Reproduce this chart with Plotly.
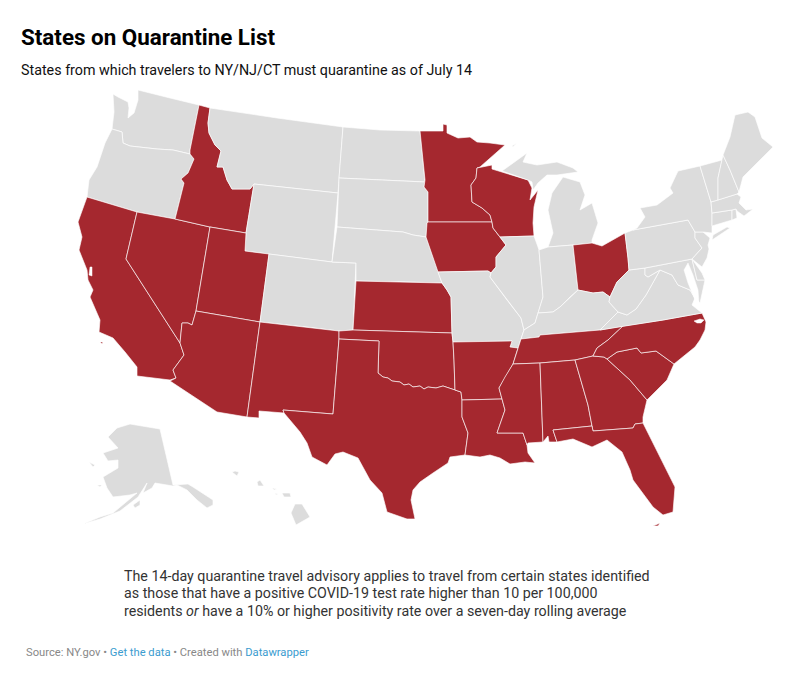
import plotly.graph_objects as go

# outlines are read off the picture, no basemap can be fetched here
red_river = [(378,373),(383,377),(388,378),(392,381),(400,382),(404,385),(409,384),(413,387),(420,386),(424,389),(428,387),(436,388),(443,386),(449,388),(455,390)]

WA = [[(113,94),(118,97),(128,102),(129,108),(128,118),(134,113),(138,100),(138,90),(170,98),(199,105),(190,150),(190,154),(173,150),(157,149),(130,146),(123,143),(122,132),(112,129),(114,112)]]
OR = [[(112,129),(122,132),(123,143),(130,146),(157,149),(173,150),(190,154),(194,159),(188,173),(181,179),(184,183),(175,219),(137,212),(87,197),(89,180),(97,167),(105,143)]]
CA = [[(87,197),(137,212),(126,259),(180,343),(184,355),(173,370),(176,378),(170,380),(137,376),(137,367),(125,352),(113,338),(99,332),(100,320),(90,297),(93,290),(88,280),(87,270),(79,250),(82,237),(78,222)],
      [(100,342),(103,342),(102,344)]]
NV = [[(137,212),(175,219),(210,227),(196,311),(192,325),(188,323),(182,323),(180,343),(126,259)]]
ID = [[(199,105),(210,108),(208,123),(209,133),(215,145),(221,151),(217,167),(223,167),(227,180),(232,189),(250,189),(254,184),(246,233),(210,227),(175,219),(184,183),(181,179),(188,173),(194,159),(190,154),(190,150)]]
MT = [[(210,108),(277,118),(343,127),(338,193),(254,184),(250,189),(232,189),(227,180),(223,167),(217,167),(221,151),(215,145),(209,133),(208,123)]]
WY = [[(254,184),(338,193),(332,262),(269,254),(245,251),(246,233)]]
UT = [[(210,227),(246,233),(245,251),(269,254),(260,322),(196,311)]]
AZ = [[(196,311),(260,322),(247,417),(217,412),(170,381),(176,378),(173,370),(184,355),(180,343),(182,323),(188,323),(192,325)]]
CO = [[(269,254),(332,262),(356,263),(353,330),(339,331),(307,327),(260,322)]]
NM = [[(260,322),(307,327),(339,331),(339,339),(333,414),(283,410),(284,413),(259,411),(259,418),(247,417)]]
ND = [[(343,127),(380,130),(420,131),(425,180),(425,182),(339,178)]]
SD = [[(339,178),(425,182),(424,187),(428,192),(428,222),(427,223),(426,237),(413,235),(403,232),(337,227)]]
NE = [[(337,227),(403,232),(413,235),(426,237),(433,257),(438,272),(442,283),(410,282),(356,281),(356,263),(332,262)]]
KS = [[(356,281),(410,282),(442,283),(447,290),(451,297),(452,333),(353,330)]]
OK = [[(339,331),(353,330),(452,333),(453,342),(454,360)] + red_river[::-1] + [(379,341),(339,339)]]
TX = [[(339,339),(379,341)] + red_river + [(461,392),(462,400),(462,417),(468,433),(465,455),(450,457),(448,463),(433,473),(420,482),(413,490),(411,500),(415,519),(407,519),(387,512),(382,493),(370,480),(358,458),(343,452),(335,454),(327,465),(312,457),(307,443),(300,432),(284,413),(283,410),(333,414)]]
MN = [[(420,131),(443,131),(443,124),(447,125),(447,133),(458,138),(470,137),(477,142),(490,143),(505,145),(480,167),(477,168),(476,178),(471,185),(472,202),(482,208),(490,215),(492,222),(428,222),(428,192),(424,187),(425,180)]]
IA = [[(428,222),(492,222),(493,228),(500,237),(506,245),(496,257),(496,267),(491,273),(488,271),(438,272),(433,257),(426,237),(427,223)]]
MO = [[(438,272),(488,271),(491,273),(490,277),(507,300),(521,318),(524,330),(521,339),(518,348),(510,347),(512,341),(453,342),(452,333),(451,297),(447,290),(442,283)]]
AR = [[(453,342),(512,341),(510,347),(518,348),(513,364),(505,377),(499,388),(502,399),(462,400),(461,392),(455,390),(454,360)]]
LA = [[(462,400),(502,399),(505,410),(497,433),(523,433),(527,445),(528,453),(535,463),(525,462),(510,464),(500,458),(490,455),(480,457),(465,455),(468,433),(462,417)]]
WI = [[(477,168),(492,165),(492,169),(502,172),(528,180),(532,188),(530,200),(538,190),(534,207),(533,223),(534,236),(500,237),(493,228),(492,222),(490,215),(482,208),(472,202),(471,185),(476,178)]]
IL = [[(500,237),(534,236),(538,247),(539,250),(543,297),(538,313),(535,323),(527,328),(524,330),(521,318),(507,300),(490,277),(491,273),(496,267),(496,257),(506,245)]]
MI = [[(548,247),(553,233),(548,210),(552,193),(563,177),(580,182),(585,195),(580,210),(592,203),(598,223),(592,240),(592,243),(573,245)],
      [(502,171),(520,158),(527,153),(523,162),(537,165),(557,162),(573,168),(578,172),(557,175),(547,175),(538,183),(533,190),(532,182),(528,180)],
      [(512,146),(517,143),(513,147)]]
IN = [[(539,250),(548,247),(573,245),(578,290),(570,297),(560,307),(553,312),(538,313),(543,297)]]
OH = [[(573,245),(592,243),(602,246),(625,233),(628,258),(629,270),(627,272),(617,282),(610,297),(603,292),(593,293),(578,290)]]
KY = [[(524,330),(527,328),(535,323),(538,313),(553,312),(560,307),(570,297),(578,290),(593,293),(603,292),(610,297),(609,302),(618,312),(607,323),(600,330),(540,335),(539,337),(521,339)]]
TN = [[(521,339),(539,337),(540,335),(600,330),(623,326),(608,340),(597,348),(593,356),(575,360),(540,363),(513,364),(518,348)]]
MS = [[(513,364),(540,363),(543,442),(528,443),(527,445),(523,433),(497,433),(505,410),(502,399),(499,388),(505,377)]]
AL = [[(540,363),(575,360),(588,405),(592,426),(553,430),(557,442),(549,442),(548,436),(543,442)]]
GA = [[(575,360),(593,356),(604,357),(607,359),(630,380),(647,400),(643,417),(643,423),(635,424),(633,428),(593,431),(592,426),(588,405)]]
SC = [[(607,359),(617,352),(637,348),(641,353),(656,351),(674,364),(667,380),(647,400),(630,380)]]
NC = [[(702,313),(706,322),(705,330),(700,340),(695,347),(683,357),(674,364),(656,351),(641,353),(637,348),(617,352),(607,359),(604,357),(593,356),(597,348),(608,340),(623,326),(663,320)]]
FL = [[(553,430),(592,426),(593,431),(633,428),(635,424),(643,423),(648,433),(660,457),(675,487),(673,512),(663,515),(653,507),(643,493),(633,480),(630,470),(622,452),(607,440),(592,447),(573,439),(557,442)],
      [(653,526),(660,523),(658,526)]]
VA = [[(600,330),(607,323),(618,312),(627,315),(636,309),(646,295),(653,282),(660,270),(672,275),(678,285),(690,290),(695,298),(692,305),(702,313),(663,320),(623,326)]]
WV = [[(629,270),(645,268),(645,275),(648,277),(660,270),(653,282),(646,295),(636,309),(627,315),(618,312),(609,302),(610,297),(617,282),(627,272)]]
MD = [[(645,268),(692,259),(697,280),(705,280),(700,303),(695,298),(690,290),(678,285),(672,275),(660,270),(648,277),(645,275)]]
DE = [[(692,259),(702,273),(705,280),(697,280)]]
PA = [[(625,233),(633,230),(688,220),(695,232),(695,238),(702,248),(692,259),(645,268),(629,270),(628,258)]]
NJ = [[(695,232),(703,232),(710,238),(708,245),(709,249),(707,258),(702,267),(692,259),(702,248),(695,238)]]
NY = [[(700,166),(678,171),(670,188),(673,193),(657,205),(640,208),(645,217),(637,228),(633,230),(688,220),(695,232),(703,232),(712,233),(712,213),(711,202),(706,185)],
      [(712,240),(730,228),(727,227),(713,235)]]
CT = [[(712,213),(732,210),(732,220),(712,226)]]
RI = [[(732,210),(736,209),(737,218),(732,220)]]
MA = [[(711,202),(737,194),(741,197),(739,203),(746,210),(753,209),(748,213),(744,216),(737,211),(736,209),(732,210),(712,213)]]
VT = [[(700,166),(722,160),(718,178),(718,200),(711,202),(706,185)]]
NH = [[(723,155),(722,160),(718,178),(718,200),(737,194),(739,192),(730,170)]]
ME = [[(723,155),(730,137),(735,115),(748,112),(755,117),(762,138),(773,147),(767,153),(755,165),(743,177),(739,192),(730,170)]]
AK = [[(130,424),(117,428),(108,437),(118,448),(103,453),(108,461),(118,460),(118,468),(103,477),(107,488),(113,497),(130,495),(137,493),(113,513),(100,517),(83,524),(100,519),(120,511),(138,497),(147,483),(143,493),(152,488),(155,483),(173,486),(177,485),(187,490),(197,500),(207,508),(213,505),(213,500),(193,487),(188,484),(173,485),(160,429)],
      [(133,505),(140,500),(140,505),(135,508)],
      [(89,462),(95,465),(93,467)],
      [(97,485),(102,485),(100,487)]]
HI = [[(232,472),(235,471),(239,472),(237,476)],
      [(257,482),(260,480),(264,486),(258,486)],
      [(272,488),(277,489),(274,490)],
      [(275,493),(278,494),(276,495)],
      [(282,493),(290,493),(291,497),(284,497)],
      [(295,504),(302,504),(310,517),(296,525),(291,513)]]

states = dict(WA=WA, OR=OR, CA=CA, NV=NV, ID=ID, MT=MT, WY=WY, UT=UT, AZ=AZ, CO=CO, NM=NM, ND=ND,
              SD=SD, NE=NE, KS=KS, OK=OK, TX=TX, MN=MN, IA=IA, MO=MO, AR=AR, LA=LA, WI=WI, IL=IL,
              MI=MI, IN=IN, OH=OH, KY=KY, TN=TN, MS=MS, AL=AL, GA=GA, SC=SC, NC=NC, FL=FL, VA=VA,
              WV=WV, MD=MD, DE=DE, PA=PA, NJ=NJ, NY=NY, CT=CT, RI=RI, MA=MA, VT=VT, NH=NH, ME=ME,
              AK=AK, HI=HI)

quarantine = ["CA", "NV", "ID", "UT", "AZ", "NM", "TX", "OK", "KS", "MN", "IA", "WI", "AR", "LA",
              "MS", "AL", "TN", "GA", "SC", "NC", "FL", "OH"]

# bays cut out of the land
water = [[(688,263),(684,270),(688,283),(695,300),(699,303),(698,290),(693,275)],
         [(694,321),(700,319),(704,320),(701,323),(697,323)],
         [(90,267),(92,267),(92,276),(89,275)]]

title = "States on Quarantine List"
subtitle = "States from which travelers to NY/NJ/CT must quarantine as of July 14"
note_lines = ["The 14-day quarantine travel advisory applies to travel from certain states identified",
              "as those that have a positive COVID-19 test rate higher than 10 per 100,000",
              "residents <i>or</i> have a 10% or higher positivity rate over a seven-day rolling average"]
source = ("Source: NY.gov • <span style='color:#3b9ccf'>Get the data</span> • Created with "
          "<span style='color:#3b9ccf'>Datawrapper</span>")

RED = "#a5282f"
GREY = "#dcdcdc"


def flatten(parts):
    xs, ys = [], []
    for part in parts:
        for p in part + part[:1]:
            xs.append(p[0])
            ys.append(p[1])
        xs.append(None)
        ys.append(None)
    return xs, ys


fig = go.Figure()
for name, parts in states.items():
    xs, ys = flatten(parts)
    fig.add_trace(go.Scatter(
        x=xs, y=ys, mode="lines", fill="toself", name=name,
        fillcolor=RED if name in quarantine else GREY,
        line=dict(color="rgba(255,255,255,0.8)", width=0.8),
        showlegend=False, hoverinfo="name"
    ))

xs, ys = flatten(water)
fig.add_trace(go.Scatter(x=xs, y=ys, mode="lines", fill="toself", fillcolor="white",
                         line=dict(color="white", width=0.5), showlegend=False, hoverinfo="skip"))


def label(text, x, y, size, color, family="Roboto"):
    fig.add_annotation(text=text, x=x, y=y, xref="x", yref="y", xanchor="left", yanchor="middle",
                       showarrow=False, align="left", font=dict(family=family, size=size, color=color))


label("<b>" + title + "</b>", 19, 37, 22.4, "#000000")
label(subtitle, 19, 70, 14.3, "#111111")
for line, y in zip(note_lines, [576, 593, 611]):
    label(line, 122, y, 14.25, "#333333")
label(source, 24, 652, 11.2, "#888888")

fig.update_layout(
    width=800, height=682,
    margin=dict(l=0, r=0, t=0, b=0),
    paper_bgcolor="white", plot_bgcolor="white",
    xaxis=dict(range=[0, 800], visible=False),
    yaxis=dict(range=[682, 0], visible=False)
)
# page margin would push the whole figure down and right
fig.write_html("out.html", config=dict(displayModeBar=False),
               post_script="document.body.style.margin='0';")
